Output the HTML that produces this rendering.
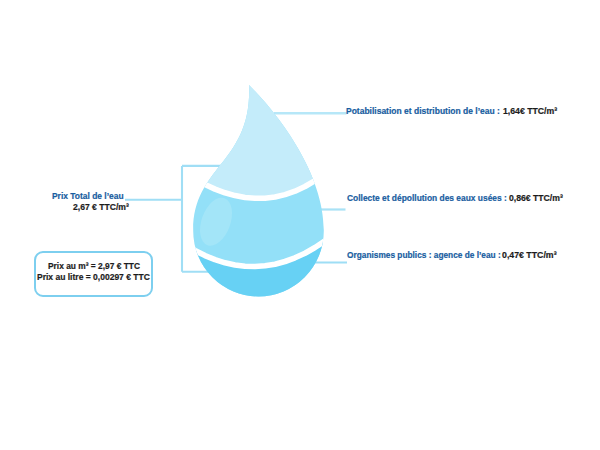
<!DOCTYPE html>
<html><head><meta charset="utf-8">
<style>
html,body{margin:0;padding:0;background:#fff;}
body{width:600px;height:450px;position:relative;overflow:hidden;font-family:"Liberation Sans",sans-serif;font-weight:bold;}
svg{position:absolute;left:0;top:0;}
.t{position:absolute;white-space:nowrap;font-size:9px;line-height:10px;transform-origin:0 0;-webkit-text-stroke:0.2px currentColor;}
.b{color:#185d9f;}
.k{color:#1c1c1c;}
.box{position:absolute;left:34px;top:251px;width:115px;height:42px;border:2px solid #7dcfef;border-radius:9px;box-sizing:content-box;}
</style></head><body>
<svg width="600" height="450" viewBox="0 0 600 450">
<defs>
<clipPath id="drop"><path d="M249,85 C273.86,109.45 323.8,170.64 323.8,230 L323.8,231 A65.3,65.5 0 0 1 193.2,231 L193.2,230 C193.2,165.7 252.4,162.85 249,85 Z"/></clipPath>
</defs>
<g fill="none">
<path d="M274,113.3 H346.5" stroke="#b6e7f8" stroke-width="2.4"/>
<path d="M320,209.5 H345.5" stroke="#a9e2f6" stroke-width="2.2"/>
<path d="M314,262.5 H347" stroke="#9edef5" stroke-width="2.2"/>
<path d="M125,199.8 H182 M182,165.9 V271.8 M182,165.9 H222 M182,271.8 H208" stroke="#a0def5" stroke-width="2.1"/>
</g>
<g clip-path="url(#drop)">
<rect x="180" y="80" width="160" height="230" fill="#93e0f8"/>
<path d="M180,80 H340 V165.2 L335.0,165.2 L325.0,173.6 L315.0,180.7 L305.0,186.5 L295.0,191.2 L285.0,194.6 L275.0,197.0 L265.0,198.2 L255.0,198.3 L245.0,197.5 L235.0,195.6 L225.0,192.8 L215.0,189.1 L205.0,184.5 L195.0,179.1 L185.0,172.9 L180,172.9 Z" fill="#c4ecfa"/>
<path d="M180,310 H340 V233.2 L335.0,233.2 L325.0,240.9 L315.0,247.5 L305.0,253.2 L295.0,257.8 L285.0,261.5 L275.0,264.2 L265.0,265.8 L255.0,266.5 L245.0,266.3 L235.0,265.0 L225.0,262.8 L215.0,259.7 L205.0,255.6 L195.0,250.5 L185.0,244.6 L180,244.6 Z" fill="#67d1f4"/>
<ellipse cx="216" cy="221.7" rx="14.4" ry="25" transform="rotate(20 216 221.7)" fill="#a3e5f8"/>
<path d="M185.0,172.9 L195.0,179.1 L205.0,184.5 L215.0,189.1 L225.0,192.8 L235.0,195.6 L245.0,197.5 L255.0,198.3 L265.0,198.2 L275.0,197.0 L285.0,194.6 L295.0,191.2 L305.0,186.5 L315.0,180.7 L325.0,173.6 L335.0,165.2" stroke="#fff" stroke-width="5.6" fill="none" stroke-linejoin="round"/>
<path d="M185.0,244.6 L195.0,250.5 L205.0,255.6 L215.0,259.7 L225.0,262.8 L235.0,265.0 L245.0,266.3 L255.0,266.5 L265.0,265.8 L275.0,264.2 L285.0,261.5 L295.0,257.8 L305.0,253.2 L315.0,247.5 L325.0,240.9 L335.0,233.2" stroke="#fff" stroke-width="5.6" fill="none" stroke-linejoin="round"/>
</g>
</svg>
<div class="t b" style="left:346.3px;top:105.5px;transform:scaleX(0.9436);">Potabilisation et distribution de l’eau :</div>
<div class="t k" style="left:502.5px;top:105.5px;transform:scaleX(0.967);">1,64€ TTC/m³</div>
<div class="t b" style="left:346.5px;top:192.9px;transform:scaleX(0.9345);">Collecte et dépollution des eaux usées :</div>
<div class="t k" style="left:508.7px;top:192.9px;transform:scaleX(0.960);">0,86€ TTC/m³</div>
<div class="t b" style="left:346.5px;top:250.1px;transform:scaleX(0.923);">Organismes publics : agence de l’eau :</div>
<div class="t k" style="left:501.7px;top:250.1px;transform:scaleX(0.974);">0,47€ TTC/m³</div>
<div class="t b" style="left:51.7px;top:191px;transform:scaleX(0.937);">Prix Total de l’eau</div>
<div class="t k" style="left:72.5px;top:201.9px;transform:scaleX(0.953);">2,67 € TTC/m³</div>
<div class="box"></div>
<div class="t k" style="left:47.9px;top:261.4px;transform:scaleX(0.931);">Prix au m³ = 2,97 € TTC</div>
<div class="t k" style="left:37.1px;top:272.2px;transform:scaleX(0.946);">Prix au litre = 0,00297 € TTC</div>
</body></html>
